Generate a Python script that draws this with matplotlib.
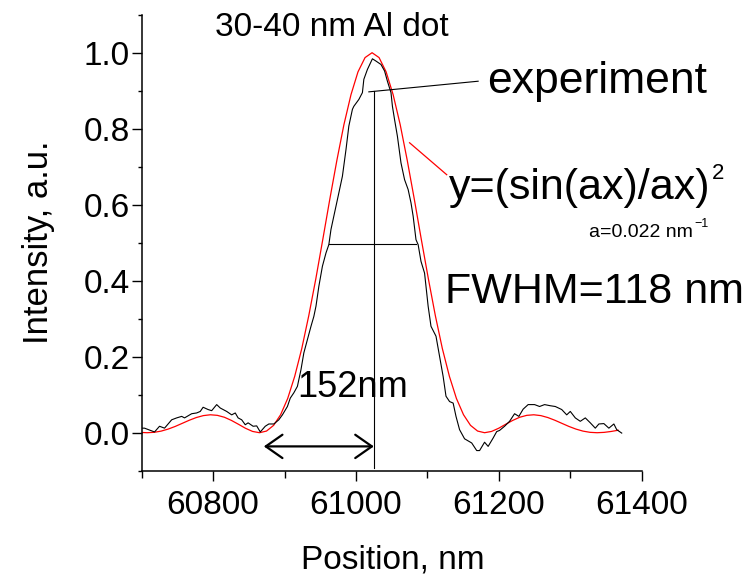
import matplotlib
matplotlib.use("Agg")
import matplotlib.pyplot as plt
from matplotlib.ticker import MultipleLocator

plt.rcParams['font.family'] = ['Liberation Sans', 'DejaVu Sans']

# --- measured experiment trace (position nm, intensity a.u.) ---
exp_x = [60700, 60704, 60718, 60725, 60732, 60742, 60749, 60756, 60760, 60770,
         60777, 60782, 60786, 60793, 60798, 60805, 60810, 60814, 60819, 60826,
         60831, 60835, 60840, 60845, 60849, 60856, 60861, 60866, 60873, 60878,
         60885, 60892, 60897, 60904, 60908, 60913, 60918, 60923, 60927, 60932,
         60937, 60941, 60944, 60948, 60953, 60958, 60962, 60965, 60969, 60976,
         60981, 60986, 60990, 60995, 60997, 61004, 61009, 61011, 61016, 61023,
         61028, 61035, 61040, 61044, 61049, 61051, 61054, 61058, 61063, 61068,
         61073, 61077, 61080, 61084, 61087, 61091, 61096, 61101, 61105, 61112,
         61117, 61122, 61126, 61131, 61136, 61140, 61145, 61152, 61162, 61169,
         61173, 61180, 61185, 61192, 61197, 61201, 61208, 61215, 61222, 61228,
         61234, 61241, 61250, 61257, 61264, 61272, 61279, 61288, 61295, 61300,
         61307, 61314, 61321, 61328, 61335, 61340, 61347, 61354, 61361, 61365,
         61372]
exp_y = [0.012, 0.012, 0.002, 0.017, 0.012, 0.034, 0.039, 0.043, 0.039, 0.050,
         0.052, 0.056, 0.067, 0.061, 0.058, 0.074, 0.065, 0.061, 0.056, 0.047,
         0.052, 0.039, 0.034, 0.021, 0.026, 0.017, 0.018, 0.002, 0.017, 0.023,
         0.023, 0.034, 0.047, 0.069, 0.091, 0.105, 0.122, 0.166, 0.210, 0.245,
         0.280, 0.306, 0.333, 0.385, 0.438, 0.473, 0.495, 0.535, 0.570, 0.631,
         0.675, 0.745, 0.807, 0.851, 0.859, 0.877, 0.895, 0.930, 0.956, 0.984,
         0.978, 0.969, 0.952, 0.925, 0.895, 0.859, 0.824, 0.780, 0.710, 0.666,
         0.640, 0.605, 0.570, 0.508, 0.495, 0.451, 0.420, 0.333, 0.280, 0.254,
         0.201, 0.148, 0.096, 0.082, 0.078, 0.043, 0.008, -0.016, -0.027, -0.047,
         -0.047, -0.025, -0.036, -0.014, 0.003, 0.006, 0.017, 0.030, 0.050, 0.043,
         0.062, 0.074, 0.074, 0.069, 0.074, 0.071, 0.069, 0.061, 0.047, 0.056,
         0.039, 0.030, 0.039, 0.026, 0.012, 0.023, 0.024, 0.012, 0.023, 0.008,
         -0.001]

# --- fitted (sin(ax)/ax)^2 curve ---
fit_x = [60697.7, 60707.5, 60717.3, 60727.2, 60737.0, 60746.9, 60756.7, 60766.6,
         60776.4, 60786.3, 60796.1, 60805.9, 60815.8, 60825.6, 60835.5, 60845.3,
         60855.2, 60865.0, 60874.8, 60884.7, 60894.5, 60904.4, 60914.2, 60924.1,
         60933.9, 60943.8, 60953.6, 60963.4, 60973.3, 60983.1, 60993.0, 61002.8,
         61012.7, 61022.5, 61032.3, 61042.2, 61052.0, 61061.9, 61071.7, 61081.6,
         61091.4, 61101.3, 61111.1, 61120.9, 61130.8, 61140.6, 61150.5, 61160.3,
         61170.2, 61180.0, 61189.8, 61199.7, 61209.5, 61219.4, 61229.2, 61239.1,
         61248.9, 61258.8, 61268.6, 61278.4, 61288.3, 61298.1, 61308.0, 61317.8,
         61327.7, 61337.5, 61347.3, 61357.2, 61367.0]
fit_y = [0.0009, 0.0, 0.0010, 0.0042, 0.0095, 0.0165, 0.0246, 0.0328,
         0.0399, 0.0450, 0.0472, 0.0457, 0.0407, 0.0324, 0.0222, 0.0117,
         0.0034, 0.0, 0.0044, 0.0194, 0.0474, 0.0901, 0.1482, 0.2214,
         0.3080, 0.4053, 0.5092, 0.6150, 0.7173, 0.8106, 0.8896, 0.9496,
         0.9872, 1.0, 0.9872, 0.9496, 0.8896, 0.8106, 0.7173, 0.6150,
         0.5092, 0.4053, 0.3080, 0.2214, 0.1482, 0.0901, 0.0474, 0.0194,
         0.0044, 0.0, 0.0034, 0.0117, 0.0222, 0.0324, 0.0407, 0.0457,
         0.0472, 0.0450, 0.0399, 0.0328, 0.0246, 0.0165, 0.0095, 0.0042,
         0.0010, 0.0, 0.0009, 0.0033, 0.0065]

peak_x = 61025
fwhm_left, fwhm_right, fwhm_y = 60962, 61084, 0.497
arrow_left, arrow_y = 60871, -0.036

fig = plt.figure(figsize=(7.54, 5.77), dpi=100)
ax = fig.add_axes([0.1879, 0.1842, 0.6632, 0.7903])

ax.plot(fit_x, fit_y, color='#ff0000', lw=0.9)
ax.plot(exp_x, exp_y, color='black', lw=0.8)

# guide lines
ax.plot([peak_x, peak_x], [-0.092, 0.899], color='black', lw=0.8)
ax.plot([fwhm_left, fwhm_right], [fwhm_y, fwhm_y], color='black', lw=0.8)
ax.plot([61018, 61171], [0.897, 0.925], color='black', lw=0.8)
ax.plot([61075, 61127], [0.763, 0.679], color='#ff0000', lw=0.9)
ax.annotate('', xy=(arrow_left, arrow_y), xytext=(peak_x, arrow_y),
            arrowprops=dict(arrowstyle='<->,head_length=0.5,head_width=0.35',
                            lw=1.6, color='black', mutation_scale=24,
                            shrinkA=0, shrinkB=0))

# text labels
ax.text(60803, 1.043, '30-40 nm Al dot', fontsize=24, va='baseline')
ax.text(61184, 0.895, 'experiment', fontsize=32, va='baseline')
t1 = ax.text(61130, 0.614, 'y=(sin(ax)/ax)', fontsize=31, va='baseline')
ax.annotate('2', xy=(1, 1), xycoords=t1, xytext=(1, 4),
            textcoords='offset points', fontsize=16, va='top', ha='left')
t2 = ax.text(61326, 0.516, 'a=0.022 nm', fontsize=14, va='baseline')
ax.annotate('\u22121', xy=(1, 1), xycoords=t2, xytext=(1, 4),
            textcoords='offset points', fontsize=9, va='top', ha='left')
ax.text(61124, 0.342, 'FWHM=118 nm', fontsize=31, va='baseline')
ax.text(60918, 0.095, '152nm', fontsize=26, va='baseline')

ax.set_xlim(60700, 61400)
ax.set_ylim(-0.1, 1.1)
ax.xaxis.set_major_locator(MultipleLocator(200))
ax.xaxis.set_minor_locator(MultipleLocator(100))
ax.yaxis.set_major_locator(MultipleLocator(0.2))
ax.yaxis.set_minor_locator(MultipleLocator(0.1))
ax.yaxis.set_major_formatter(plt.FuncFormatter(lambda v, p: f'{v:.1f}'))

for side in ['top', 'right']:
    ax.spines[side].set_visible(False)
for side in ['left', 'bottom']:
    ax.spines[side].set_linewidth(1.1)

ax.tick_params(axis='both', which='both', direction='out', width=1.0, labelsize=24)
ax.tick_params(axis='x', which='major', length=7, pad=7)
ax.tick_params(axis='x', which='minor', length=5)
ax.tick_params(axis='y', which='major', length=7, pad=1.5)
ax.tick_params(axis='y', which='minor', length=3)

xl = ax.set_xlabel('Position, nm', fontsize=24, va='baseline')
ax.xaxis.set_label_coords(0.5016, -0.2134)
yl = ax.set_ylabel('Intensity, a.u.', fontsize=25, va='center')
ax.yaxis.set_label_coords(-0.206, 0.5)

fig.savefig('out.png', dpi=100)
